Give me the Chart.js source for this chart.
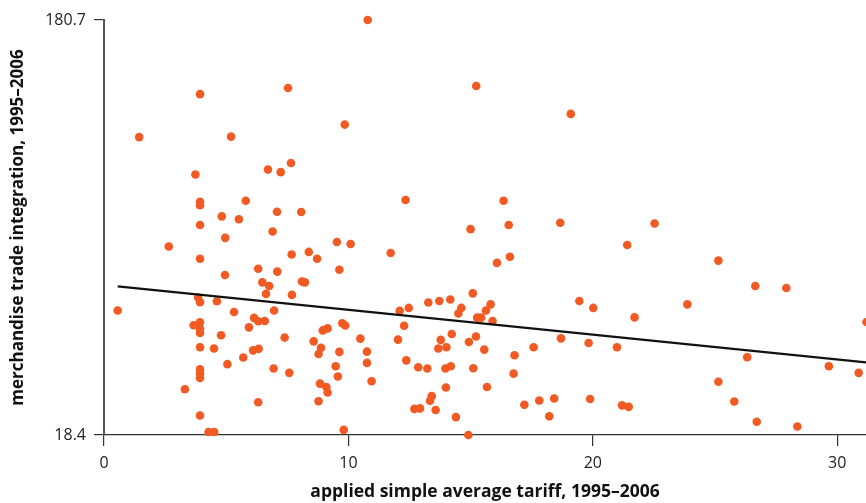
<!DOCTYPE html>
<html>
<head>
<meta charset="utf-8">
<script src="https://cdn.jsdelivr.net/npm/chart.js@4.4.1/dist/chart.umd.min.js"></script>
<style>
  html, body { margin: 0; padding: 0; background: #fff; }
  #wrap { width: 866px; height: 503px; position: relative; }
</style>
</head>
<body>
<div id="wrap"><canvas id="c" width="866" height="503"></canvas></div>
<script>
// applied simple average tariff, 1995–2006 (x)
const tariff = [
  10.79, 3.93, 7.53, 9.85, 1.44, 5.20, 6.71, 7.23, 7.65, 3.74,
  3.93, 3.93, 5.80, 4.82, 5.52, 7.08, 8.07, 3.93, 6.90, 4.96,
  2.65, 3.93, 9.53, 10.09, 7.68, 8.38, 8.72, 6.31, 7.09, 4.95,
  9.63, 6.48, 6.76, 8.10, 8.22, 6.63, 7.69, 3.85, 3.93, 4.62,
  0.56, 6.96, 5.32, 6.14, 6.31, 6.58, 3.93, 3.67, 3.93, 3.93,
  5.93, 9.75, 9.87, 8.95, 9.15, 4.79, 7.39, 10.49, 8.58, 3.93,
  4.50, 8.88, 8.78, 6.10, 6.33, 9.63, 10.76, 10.76, 5.70, 5.05,
  9.48, 6.94, 7.58, 3.93, 3.93, 3.93, 9.57, 10.95, 8.84, 9.10,
  9.15, 3.31, 8.78, 6.31, 3.93, 4.28, 4.51, 9.81,
  15.23, 19.10, 12.34, 16.35, 15.00, 16.56, 18.67, 22.53,
  11.73, 21.41, 16.08, 16.61, 15.09, 12.10, 12.47, 13.27, 13.72, 14.17,
  19.45, 20.02, 14.62, 14.50, 15.63, 15.82, 15.27, 15.43, 15.90, 21.71,
  12.28, 12.03, 14.23, 13.78, 15.22, 14.93, 13.68, 14.01, 15.56, 18.70,
  19.83, 20.99, 17.58, 16.80, 12.37, 12.86, 13.23, 13.97, 14.19, 15.11,
  16.76, 13.99, 15.67, 13.41, 13.34, 12.70, 12.93, 13.57, 14.40, 17.20,
  17.81, 18.42, 18.22, 19.89, 21.20, 21.47, 14.91,
  25.14, 26.65, 27.92, 23.87, 26.32, 29.66, 30.88, 25.14, 25.79, 26.71,
  28.37, 31.20
];
// merchandise trade integration, 1995–2006 (y)
const tradeIntegration = [
  180.7, 151.7, 154.1, 139.8, 134.9, 135.1, 122.2, 121.2, 124.8, 120.3,
  109.6, 108.3, 110.0, 103.9, 102.8, 105.7, 105.6, 100.5, 98.0, 95.5,
  92.1, 87.3, 93.9, 93.1, 89.0, 90.0, 87.3, 83.4, 82.3, 81.0,
  83.0, 78.1, 76.7, 78.4, 78.1, 73.6, 73.2, 72.2, 70.3, 70.7,
  67.1, 67.1, 66.5, 64.2, 62.9, 63.0, 62.5, 61.3, 59.9, 58.3,
  60.5, 62.1, 61.2, 59.3, 60.1, 57.4, 56.5, 56.1, 55.0, 52.7,
  52.2, 52.5, 50.1, 51.5, 52.1, 50.9, 51.0, 46.6, 48.7, 46.1,
  45.3, 44.4, 42.7, 44.1, 42.4, 40.7, 41.3, 39.4, 38.5, 37.2,
  35.0, 36.3, 31.6, 31.2, 26.0, 19.6, 19.6, 20.4,
  154.9, 144.0, 110.3, 110.0, 98.9, 100.5, 101.4, 101.1,
  89.6, 92.7, 85.7, 88.1, 73.8, 67.0, 68.1, 70.2, 70.8, 71.4,
  70.8, 68.1, 68.1, 65.9, 67.1, 69.5, 64.3, 64.3, 63.0, 64.4,
  61.1, 55.7, 57.9, 55.6, 56.9, 54.8, 52.2, 52.7, 51.8, 56.2,
  54.4, 52.7, 52.7, 49.6, 47.6, 44.9, 44.4, 44.4, 45.3, 44.5,
  42.4, 37.0, 37.2, 33.6, 31.8, 28.6, 28.8, 28.2, 25.4, 30.2,
  31.9, 32.7, 25.7, 32.5, 30.0, 29.4, 18.4,
  86.6, 76.7, 75.9, 69.5, 48.8, 45.3, 42.7, 39.2, 31.5, 23.6,
  21.7, 62.6
];
// fitted trend line end points
const trendX = [0.56, 31.18];
const trendY = [76.5, 46.8];
// axis ticks
const xTicks = [0, 10, 20, 30];
const yTicks = [18.4, 180.7];
const xRange = [0, 31.18];
const yRange = [18.4, 180.7];

const pts = tariff.map((x, i) => ({ x: x, y: tradeIntegration[i] }));
const trend = trendX.map((x, i) => ({ x: x, y: trendY[i] }));

const FONT = "'Open Sans', 'DejaVu Sans', sans-serif";

new Chart(document.getElementById('c'), {
  type: 'scatter',
  data: {
    datasets: [
      {
        type: 'line',
        data: trend,
        borderColor: '#111',
        borderWidth: 2.2,
        pointRadius: 0,
        fill: false,
        tension: 0,
        clip: false
      },
      {
        data: pts,
        backgroundColor: '#F15A22',
        borderWidth: 0,
        pointRadius: 4.3,
        clip: 6
      }
    ]
  },
  options: {
    responsive: false,
    animation: false,
    devicePixelRatio: 1,
    layout: { autoPadding: false, padding: { top: 20, right: 0, left: 0, bottom: 0 } },
    plugins: { legend: { display: false }, tooltip: { enabled: false } },
    scales: {
      x: {
        type: 'linear',
        min: xRange[0],
        max: xRange[1],
        afterBuildTicks: (s) => { s.ticks = xTicks.map(v => ({ value: v })); },
        afterFit: (s) => { s.height = 68; s.paddingLeft = 0; s.paddingRight = 0; },
        grid: { drawOnChartArea: false, drawTicks: true, tickLength: 11, color: '#333', lineWidth: 1.2 },
        border: { display: true, color: '#333', width: 1.2 },
        ticks: { color: '#222', font: { family: FONT, size: 16 }, padding: 8, maxRotation: 0 },
        title: {
          display: true,
          text: 'applied simple average tariff, 1995–2006',
          color: '#111',
          font: { family: FONT, size: 17.5, weight: 'bold' },
          padding: { top: 0, bottom: 0 }
        }
      },
      y: {
        type: 'linear',
        min: yRange[0],
        max: yRange[1],
        afterBuildTicks: (s) => { s.ticks = yTicks.map(v => ({ value: v })); },
        afterFit: (s) => { s.width = 104; s.paddingTop = 0; s.paddingBottom = 0; },
        grid: { drawOnChartArea: false, drawTicks: true, tickLength: 10, color: '#333', lineWidth: 1.2 },
        border: { display: true, color: '#555', width: 2 },
        ticks: {
          color: '#222', font: { family: FONT, size: 16 }, padding: 8,
          callback: (v) => String(v)
        },
        title: {
          display: true,
          text: 'merchandise trade integration, 1995–2006',
          color: '#111',
          font: { family: FONT, size: 17, weight: 'bold' },
          padding: { top: 8, bottom: 0 }
        }
      }
    }
  }
});
</script>
</body>
</html>
